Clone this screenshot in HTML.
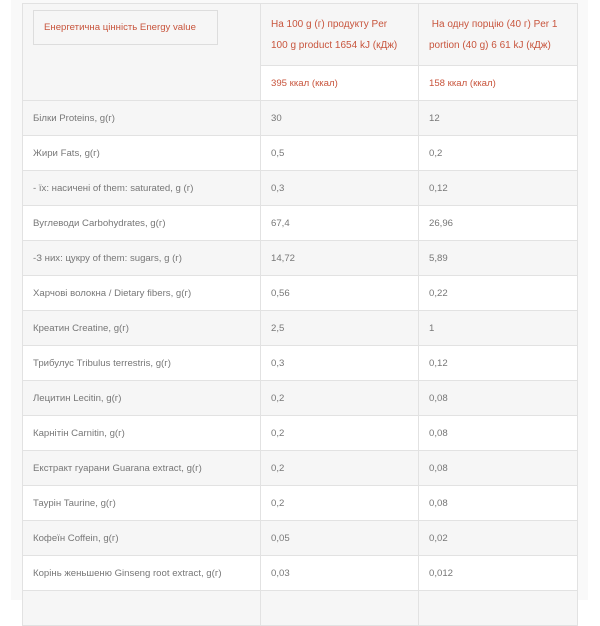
<!DOCTYPE html>
<html><head><meta charset="utf-8"><style>
body{margin:0;width:600px;height:600px;overflow:hidden;background:#fff;font-family:"Liberation Sans","DejaVu Sans",sans-serif;}
.wrap{position:absolute;left:11px;top:0;width:577px;height:600px;background:#f9f9f9;}
table{position:absolute;left:22px;top:3px;border-collapse:collapse;table-layout:fixed;font-size:9.6px;color:#777;width:555px;}
td{border:1px solid #e2e2e2;padding:0 0 0 10px;height:34px;vertical-align:middle;white-space:nowrap;overflow:hidden;}
tr.g td{background:#f6f6f6;}
tr.w td{background:#fff;}
.r{color:#c8553d;}
.box{border:1px solid #ddd;height:35px;line-height:33px;padding-left:10px;position:absolute;left:33px;top:10px;background:#f6f6f6;box-sizing:border-box;width:185px;font-size:9.6px;}
</style></head><body>
<div class="wrap"></div>
<table>
<colgroup><col style="width:238px"><col style="width:158px"><col style="width:159px"></colgroup>
<tr class="g"><td rowspan="2"></td>
<td class="r" style="height:61px;line-height:21px;font-size:10px">На 100 g (г) продукту Per<br>100 g product 1654 kJ (кДж)</td>
<td class="r" style="line-height:21px;font-size:10px">&nbsp;На одну порцію (40 г) Per 1<br>portion (40 g) 6 61 kJ (кДж)</td></tr>
<tr class="w"><td class="r">395 ккал (ккал)</td><td class="r">158 ккал (ккал)</td></tr>
<tr class="g"><td>Білки Proteins, g(г)</td><td>30</td><td>12</td></tr>
<tr class="w"><td>Жири Fats, g(г)</td><td>0,5</td><td>0,2</td></tr>
<tr class="g"><td>- їх: насичені of them: saturated, g (г)</td><td>0,3</td><td>0,12</td></tr>
<tr class="w"><td>Вуглеводи Carbohydrates, g(г)</td><td>67,4</td><td>26,96</td></tr>
<tr class="g"><td>-З них: цукру of them: sugars, g (г)</td><td>14,72</td><td>5,89</td></tr>
<tr class="w"><td>Харчові волокна / Dietary fibers, g(г)</td><td>0,56</td><td>0,22</td></tr>
<tr class="g"><td>Креатин Creatine, g(г)</td><td>2,5</td><td>1</td></tr>
<tr class="w"><td>Трибулус Tribulus terrestris, g(г)</td><td>0,3</td><td>0,12</td></tr>
<tr class="g"><td>Лецитин Lecitin, g(г)</td><td>0,2</td><td>0,08</td></tr>
<tr class="w"><td>Карнітін Carnitin, g(г)</td><td>0,2</td><td>0,08</td></tr>
<tr class="g"><td>Екстракт гуарани Guarana extract, g(г)</td><td>0,2</td><td>0,08</td></tr>
<tr class="w"><td>Таурін Taurine, g(г)</td><td>0,2</td><td>0,08</td></tr>
<tr class="g"><td>Кофеїн Coffein, g(г)</td><td>0,05</td><td>0,02</td></tr>
<tr class="w"><td>Корінь женьшеню Ginseng root extract, g(г)</td><td>0,03</td><td>0,012</td></tr>
<tr class="g"><td>&nbsp;</td><td></td><td></td></tr>
</table>
<div class="box r">Енергетична цінність Energy value</div>
</body></html>
